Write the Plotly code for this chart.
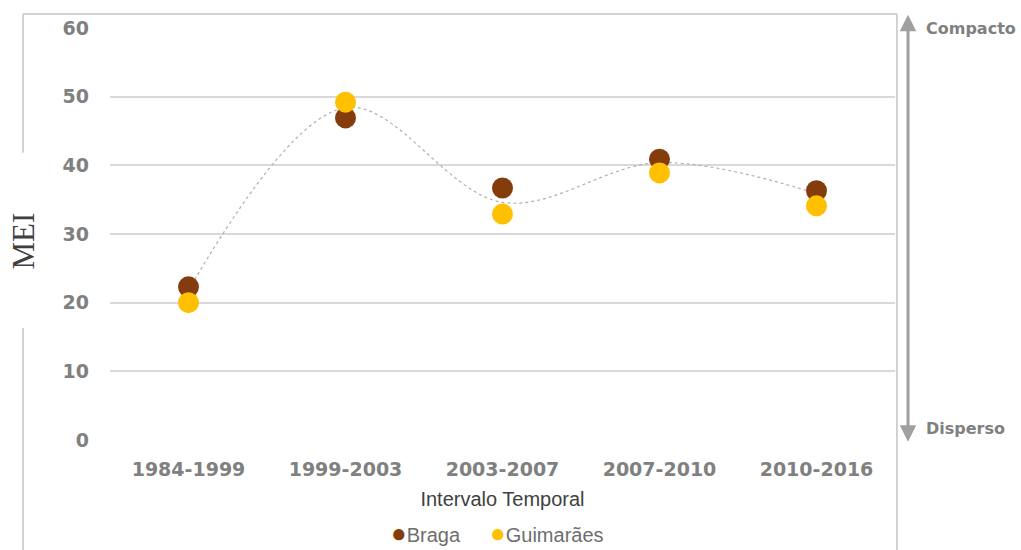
import plotly.graph_objects as go

# Time intervals and MEI values per municipality
intervals = ["1984-1999", "1999-2003", "2003-2007", "2007-2010", "2010-2016"]
braga = [22.3, 46.9, 36.7, 40.9, 36.3]
guimaraes = [20.0, 49.2, 32.9, 38.9, 34.1]
trend = [21.8, 48.4, 34.6, 40.4, 35.9]
y_ticks = [0, 10, 20, 30, 40, 50, 60]

BROWN = "#843C0C"
GOLD = "#FFC000"
TICK_GREY = "#808080"
FRAME = "#c4c4c4"

fig = go.Figure()

# Smoothed dotted trend through both series
fig.add_trace(go.Scatter(
    x=intervals, y=trend, mode="lines",
    line=dict(shape="spline", smoothing=1.0, color="#b0b0b0", width=1.2, dash="dot"),
    showlegend=False, hoverinfo="skip",
))
fig.add_trace(go.Scatter(
    x=intervals, y=braga, mode="markers", name="Braga",
    marker=dict(size=21, color=BROWN), showlegend=False,
))
fig.add_trace(go.Scatter(
    x=intervals, y=guimaraes, mode="markers", name="Guimarães",
    marker=dict(size=21, color=GOLD), showlegend=False,
))

# Chart frame (left side broken around the axis title)
frame = dict(type="line", xref="paper", yref="paper", line=dict(color=FRAME, width=1.5))
fig.add_shape(**frame, x0=-0.1108, x1=-0.1108, y0=1.034, y1=0.697)
fig.add_shape(**frame, x0=-0.1108, x1=-0.1108, y0=0.272, y1=-0.3)
fig.add_shape(**frame, x0=-0.1108, x1=1.0025, y0=1.034, y1=1.034)
fig.add_shape(**frame, x0=1.0025, x1=1.0025, y0=1.034, y1=-0.3)

# Double-headed arrow: Compacto (top) to Disperso (bottom)
arrow_x = 1.0166
fig.add_annotation(
    xref="x domain", yref="y domain", x=arrow_x, y=1.032,
    axref="x domain", ayref="y domain", ax=arrow_x, ay=-0.008,
    text="", showarrow=True,
    arrowhead=2, arrowsize=1.1, arrowwidth=3, arrowcolor="#a0a0a0",
    arrowside="end+start",
)
side_font = dict(family="DejaVu Sans", size=16, color=TICK_GREY)
fig.add_annotation(
    xref="paper", yref="paper", x=1.037, y=1.0, xanchor="left", yanchor="middle",
    text="<b>Compacto</b>", showarrow=False, font=side_font,
)
fig.add_annotation(
    xref="paper", yref="paper", x=1.037, y=0.029, xanchor="left", yanchor="middle",
    text="<b>Disperso</b>", showarrow=False, font=side_font,
)

# Vertical axis title
fig.add_annotation(
    xref="paper", yref="paper", x=-0.1096, y=0.484, xanchor="center", yanchor="middle",
    text="MEI", textangle=-90, showarrow=False,
    font=dict(family="Liberation Serif, Times New Roman, serif", size=31, color="#404040"),
)

# Legend row below the axis title
legend_font = dict(family="Liberation Sans, Arial, sans-serif", size=20, color="#6e6e6e")
for label, color, xpos in [("Braga", BROWN, 0.3559), ("Guimarães", GOLD, 0.4809)]:
    fig.add_annotation(
        xref="paper", yref="paper", x=xpos, y=-0.226, xanchor="left", yanchor="middle",
        text=f"<span style='color:{color};font-size:26px'>●</span>{label}",
        showarrow=False, font=legend_font,
    )

fig.update_layout(
    width=1021, height=550,
    margin=dict(l=110, r=126, t=28, b=110, autoexpand=False),
    paper_bgcolor="white", plot_bgcolor="white",
    showlegend=False,
    xaxis=dict(
        type="category", range=[-0.5, 4.5], showgrid=False, showline=False,
        zeroline=False, ticks="", ticklabelstandoff=16, automargin=False,
        tickfont=dict(family="DejaVu Sans", size=19, color=TICK_GREY, weight="bold"),
        title=dict(
            text="Intervalo Temporal", standoff=12,
            font=dict(family="Liberation Sans, Arial, sans-serif", size=20, color="#404040"),
        ),
    ),
    yaxis=dict(
        range=[0, 60], tickvals=y_ticks, showgrid=True, gridcolor="#d9d9d9", gridwidth=2,
        zeroline=False, showline=False, ticks="", ticklabelstandoff=20, automargin=False,
        tickfont=dict(family="DejaVu Sans", size=19, color=TICK_GREY, weight="bold"),
    ),
)

fig.write_html("out.html")
